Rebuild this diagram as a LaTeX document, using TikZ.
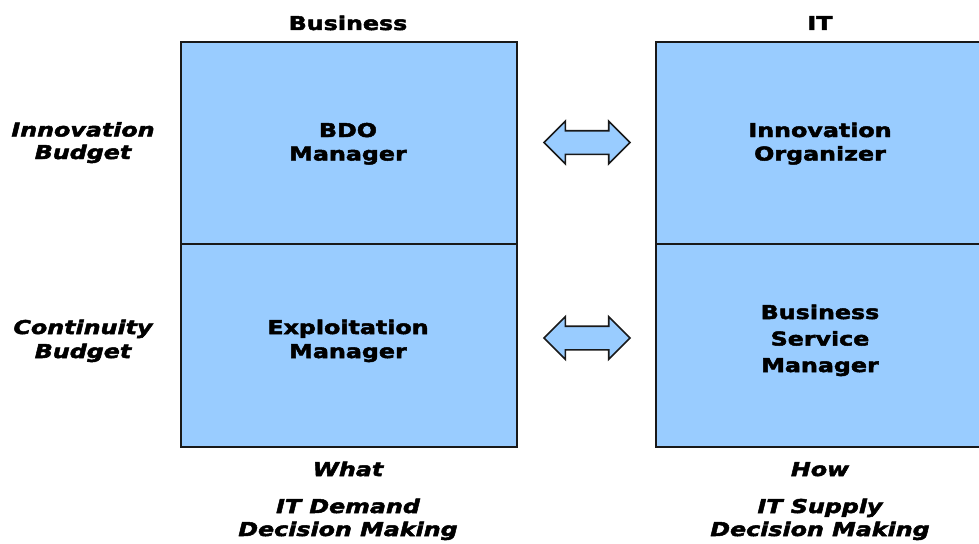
\documentclass[tikz,border=0pt]{standalone}
\usepackage{fontspec}
\setmainfont{DejaVu Sans}[FakeStretch=1.25, BoldFeatures={FakeBold=2.6}, BoldItalicFeatures={FakeBold=2.6}]
\usetikzlibrary{shapes.arrows}
\definecolor{cellblue}{HTML}{99CCFF}
\begin{document}
\begin{tikzpicture}[x=1pt,y=-1pt,
  cell/.style={draw=black!90, line width=2.1pt, fill=cellblue,
    minimum width=336pt, minimum height=202.5pt, inner sep=0pt, anchor=north west},
  txt/.style={font=\fontsize{19}{23.5}\selectfont\bfseries, align=center,
    inner sep=0pt, anchor=base},
  itxt/.style={txt, font=\fontsize{19}{23}\selectfont\bfseries\itshape},
  link/.style={double arrow, draw=black!90, line width=1.7pt, fill=cellblue,
    minimum height=86pt, inner xsep=0pt, inner ysep=11pt,
    double arrow head extend=9.5pt}
]
\useasboundingbox (0,0) rectangle (979,543);
\clip (0,0) rectangle (979,543);

% the four cells
\node[cell] (bdo) at (180,41) {};
\node[cell] (exp) at (180,243) {};
\node[cell] (ino) at (655,41) {};
\node[cell] (bsm) at (655,243) {};

% column headings (base anchor = baseline of the last line)
\node[txt] (hbiz) at (348,30) {Business};
\node[txt] (hit)  at (820,30) {IT};

% row headings
\node[itxt, font=\fontsize{19}{22.5}\selectfont\bfseries\itshape] (rinn) at (83,159) {Innovation\\Budget};
\node[itxt, font=\fontsize{19}{24}\selectfont\bfseries\itshape] (rcon) at (83,358) {Continuity\\Budget};

% cell texts
\node[txt] (tbdo) at (348,160.5) {BDO\\Manager};
\node[txt, font=\fontsize{19}{24}\selectfont\bfseries] (texp) at (348,358) {Exploitation\\Manager};
\node[txt] (tino) at (820,160.5) {Innovation\\Organizer};
\node[txt, font=\fontsize{19}{26.5}\selectfont\bfseries] (tbsm) at (820,372) {Business\\Service\\Manager};

% bottom captions
\node[itxt] (what) at (348,476) {What};
\node[itxt] (how)  at (820,476) {How};
\node[itxt] (dem)  at (348,536) {IT Demand\\Decision Making};
\node[itxt] (sup)  at (820,536) {IT Supply\\Decision Making};

% links between business and IT roles
\node[link] (l1) at (587,142.5) {};
\node[link] (l2) at (587,338) {};
\end{tikzpicture}
\end{document}
